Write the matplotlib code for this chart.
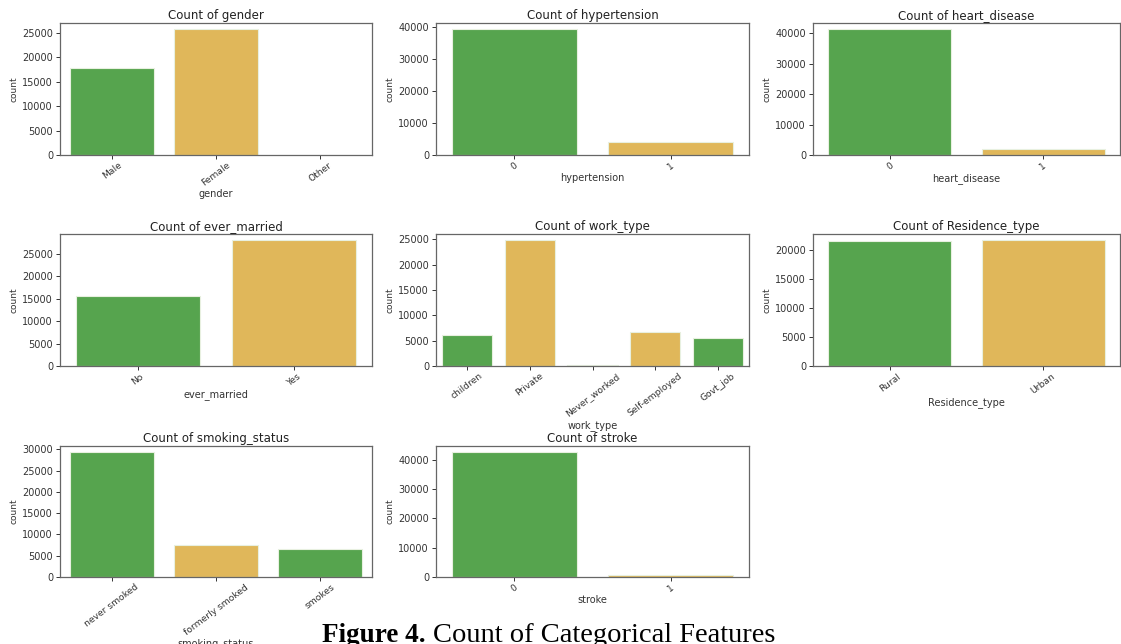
import matplotlib
matplotlib.use("Agg")
import matplotlib.pyplot as plt
from matplotlib.ticker import MaxNLocator

# counts per category for each feature
gender_labels = ["Male", "Female", "Other"]
gender_counts = [17724, 25665, 11]

hypertension_labels = ["0", "1"]
hypertension_counts = [39339, 4061]

heart_labels = ["0", "1"]
heart_counts = [41338, 2062]

married_labels = ["No", "Yes"]
married_counts = [15462, 27938]

work_labels = ["children", "Private", "Never_worked", "Self-employed", "Govt_job"]
work_counts = [6156, 24834, 177, 6793, 5440]

residence_labels = ["Rural", "Urban"]
residence_counts = [21644, 21756]

smoking_labels = ["never smoked", "formerly smoked", "smokes"]
smoking_counts = [29345, 7493, 6562]

stroke_labels = ["0", "1"]
stroke_counts = [42617, 783]

features = [
    ("gender", gender_labels, gender_counts),
    ("hypertension", hypertension_labels, hypertension_counts),
    ("heart_disease", heart_labels, heart_counts),
    ("ever_married", married_labels, married_counts),
    ("work_type", work_labels, work_counts),
    ("Residence_type", residence_labels, residence_counts),
    ("smoking_status", smoking_labels, smoking_counts),
    ("stroke", stroke_labels, stroke_counts),
]

palette = ["#56a44e", "#e0b75a"]

W, H = 1121, 644
fig = plt.figure(figsize=(W / 100, H / 100), dpi=100)

# axes boxes in pixels: left, top, right, bottom
cols = [(60, 372), (436, 749), (813, 1120)]
rows = [(23, 155), (234, 366), (446, 577)]

for i, (name, labels, counts) in enumerate(features):
    r, c = divmod(i, 3)
    x0, x1 = cols[c]
    y0, y1 = rows[r]
    ax = fig.add_axes([x0 / W, 1 - y1 / H, (x1 - x0) / W, (y1 - y0) / H])
    colors = [palette[k % 2] for k in range(len(labels))]
    ax.bar(range(len(labels)), counts, width=0.8, color=colors,
           edgecolor="#e8f0e0", linewidth=0.8)
    ax.set_xlim(-0.5, len(labels) - 0.5)
    ax.set_ylim(0, max(counts) * 1.05)
    ax.yaxis.set_major_locator(MaxNLocator(nbins=7, steps=[1, 2, 5, 10]))
    ax.set_xticks(range(len(labels)))
    ax.set_xticklabels(labels, rotation=37)
    ax.set_title(f"Count of {name}", fontsize=8.5, color="#222222", pad=3)
    ax.set_xlabel(name, fontsize=7, color="#333333", labelpad=1)
    ax.set_ylabel("count", fontsize=6.5, color="#333333", labelpad=3)
    ax.tick_params(axis="y", labelsize=7, colors="#333333", length=3, width=0.7, pad=2)
    ax.tick_params(axis="x", labelsize=6.6, colors="#333333", length=3, width=0.7, pad=1)
    for sp in ax.spines.values():
        sp.set_color("#666666")
        sp.set_linewidth(0.9)

cap_y = 1 - 636 / H
fig.text(426 / W, cap_y, "Figure 4.", ha="right", va="center",
         fontsize=19.5, fontweight="bold", family="Liberation Serif")
fig.text(433 / W, cap_y, "Count of Categorical Features", ha="left", va="center",
         fontsize=20.5, family="Liberation Serif")

fig.savefig("out.png", dpi=100)
